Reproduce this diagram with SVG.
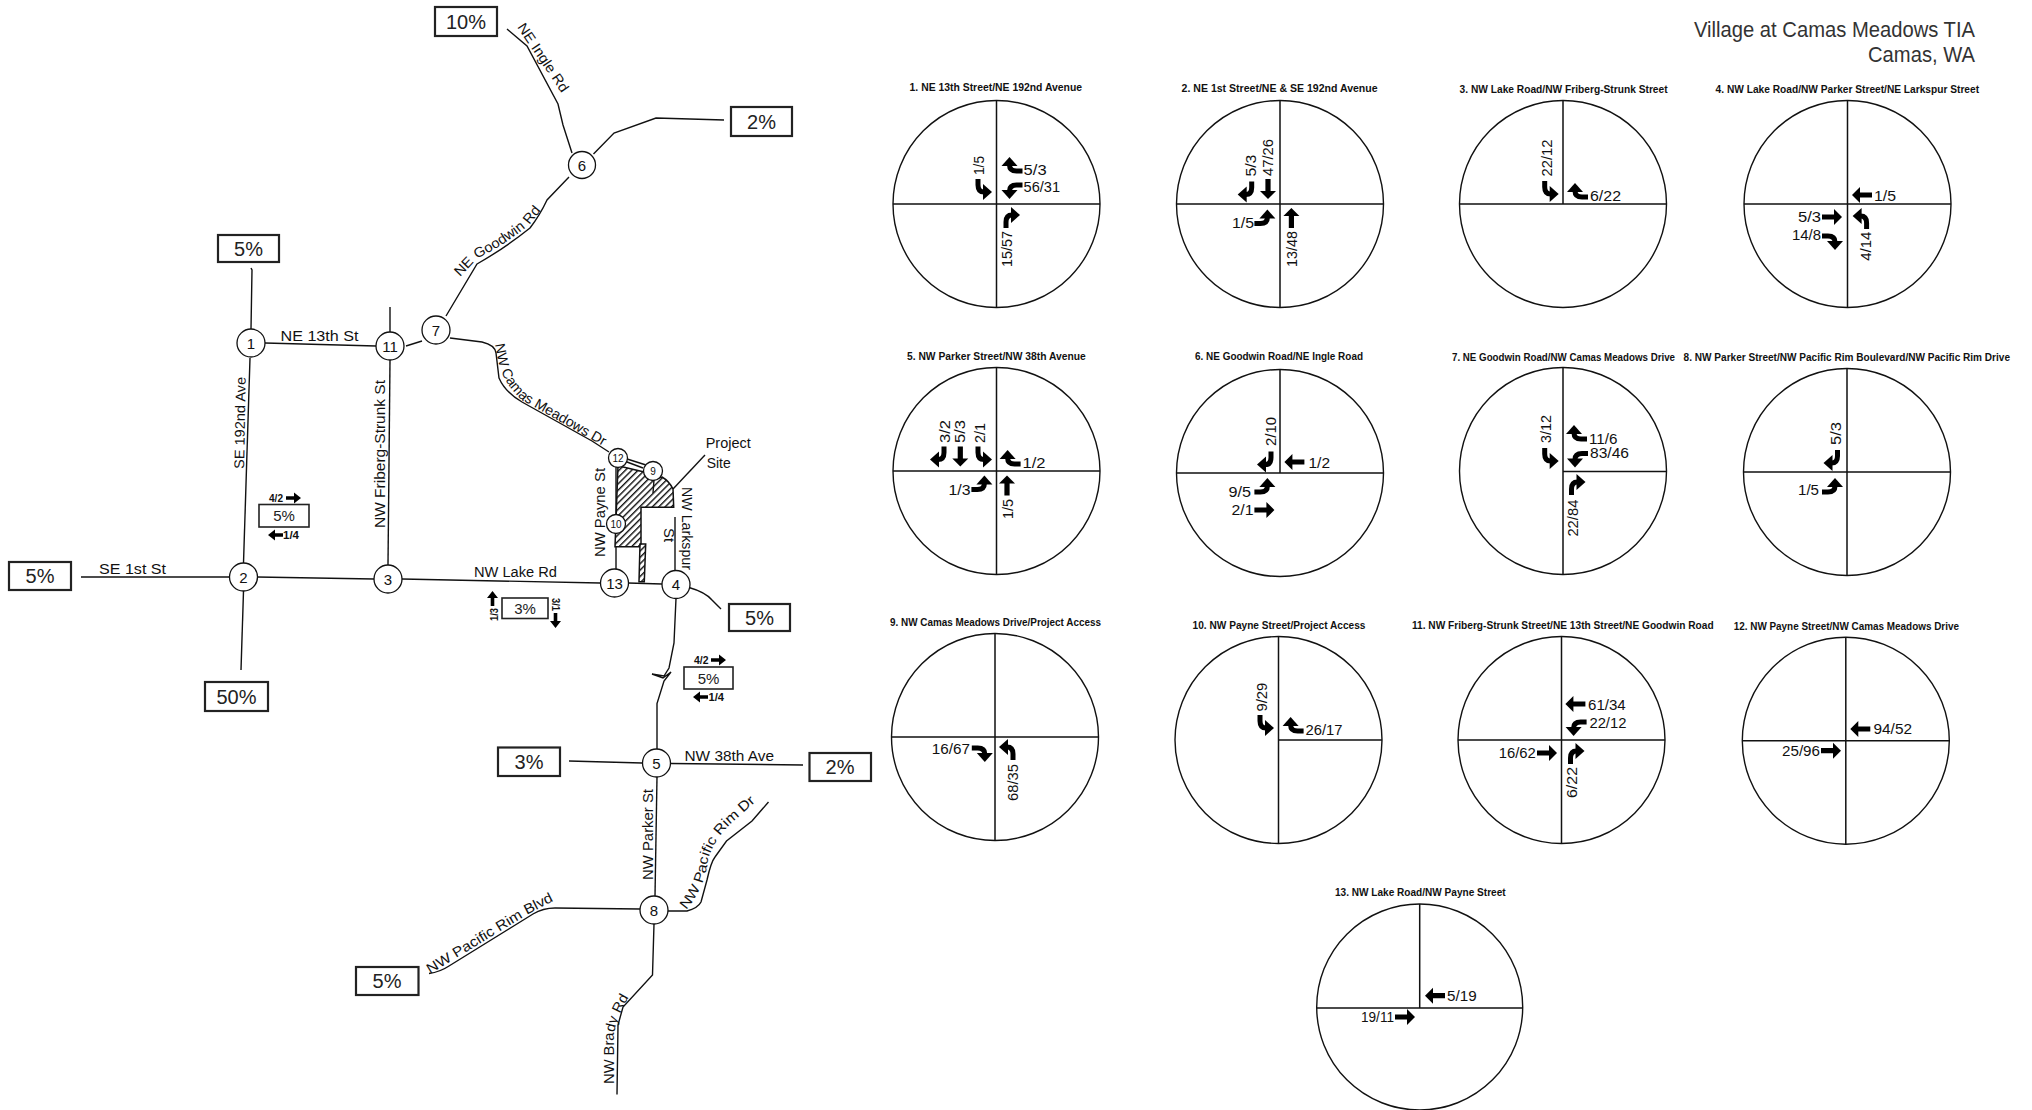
<svg xmlns="http://www.w3.org/2000/svg" width="2032" height="1110" viewBox="0 0 2032 1110">
<style>
text{font-family:"Liberation Sans",Arial,sans-serif;fill:#111}
.r{fill:none;stroke:#111;stroke-width:1.4}
.b{fill:#fff;stroke:#222;stroke-width:2.2}
.sb{fill:#fff;stroke:#222;stroke-width:1.6}
.p{font-size:20px;text-anchor:middle;fill:#222}
.ps{font-size:15px;text-anchor:middle;fill:#222}
.n{fill:#fff;stroke:#111;stroke-width:1.3}
.nt{font-size:15px;text-anchor:middle}
.nts{font-size:10px;text-anchor:middle}
.l{font-size:14px}
.ttl{font-size:10px;font-weight:bold}
.v{font-size:14px}
.sm{font-size:10px;font-weight:bold}
.h{font-size:22px;fill:#333}
.c{fill:#fff;stroke:#111;stroke-width:1.4}
.x{stroke:#111;stroke-width:1.5}
.tr{fill:none;stroke:#000;stroke-width:5}
</style>
<defs>
<pattern id="hatch" width="4.500" height="4.500" patternUnits="userSpaceOnUse" patternTransform="rotate(45)"><rect width="4.500" height="4.500" fill="#fff"/><rect width="1.400" height="4.500" fill="#111"/></pattern>
<g id="en"><path class="tr" d="M0,0H6Q13,0 13,-6"/><polygon points="5,-5 21,-5 13,-14"/></g>
<use id="es" href="#en" transform="scale(1,-1)"/>
<use id="se" href="#en" transform="rotate(90)"/>
<use id="sw" href="#en" transform="rotate(90) scale(1,-1)"/>
<use id="wn" href="#en" transform="scale(-1,1)"/>
<use id="ws" href="#en" transform="rotate(180)"/>
<use id="nw" href="#en" transform="rotate(-90)"/>
<use id="ne" href="#en" transform="rotate(-90) scale(1,-1)"/>
<polygon id="te" points="0,-2.600 12,-2.600 12,-8 20,0 12,8 12,2.600 0,2.600"/>
<use id="tw" href="#te" transform="rotate(180)"/>
<use id="ts" href="#te" transform="rotate(90)"/>
<use id="tn" href="#te" transform="rotate(-90)"/>
<polygon id="se1" points="0,-1.800 8,-1.800 8,-5.500 15,0 8,5.500 8,1.800 0,1.800"/>
<path id="pGood" d="M460,277L478,258Q505,245 530,224L548,202"/>
<path id="pCam" d="M495,344C499,365 500,380 522,400L610,450"/>
<path id="pDr" d="M686,910Q704,890 708,860Q714,838 735,820L780,780"/>
<path id="pBrady" d="M614,1084L614,1035Q616,1018 630,995"/>
<path id="pBlvd" d="M430,974L530,913L565,895"/>
</defs>

<g id="connectors">
<path class="r" d="M507,29L527,46L558,104L563,125L572,153"/>
<path class="r" d="M593.500,154L614,133L656,118L724,120"/>
<path class="r" d="M569,177L547,200Q540,215 530,228Q505,248 477,264L446,316"/>
<path class="r" d="M422,341L406,346"/>
<path class="r" d="M450,338L482,342Q495,345 496,353L499,378Q505,392 522,402L592,441L609,452"/>
<path class="r" d="M251,268L252,270L251,329"/>
<path class="r" d="M265,343L376,346"/>
<path class="r" d="M390,307V332"/>
<path class="r" d="M390,360L388,565"/>
<path class="r" d="M250,358L243.500,563"/>
<path class="r" d="M81,577L230,577"/>
<path class="r" d="M257,577L374,579"/>
<path class="r" d="M402,579L600,583"/>
<path class="r" d="M628,583L662,584"/>
<path class="r" d="M243.500,591L241,670"/>
<path class="r" d="M689,587.500Q705,592 712,600L721,609"/>
<path class="r" d="M676,598.500L674,643L669,668L664,676L652,674L663,678L671,672L664,681L657,703.500V749"/>
<path class="r" d="M569,761L642,763"/>
<path class="r" d="M671,763.500L803,765"/>
<path class="r" d="M657,777L655,896"/>
<path class="r" d="M640,909L555,908Q543,908 533,914L449,966Q440,972 429,973.500"/>
<path class="r" d="M668,911L687,911Q698,908 701,902L707,880Q711,862 715,857L726.500,841L752,821L768.500,802"/>
<path class="r" d="M654,924L652.500,975L623,1007L618,1025L617,1094.500"/>
<path class="r" d="M675,517V570"/>
<path class="r" d="M616,467V569"/>
<path class="r" d="M627,462L643,468"/>
<path class="r" d="M624,458L646,465"/>
<path class="r" d="M673,489L705,455"/>
</g>

<g id="site">
<path d="M618,465.700L644,472L652,480L662,477Q669,481 673,489L673.700,507.300H641V546.700H615Z" fill="url(#hatch)" stroke="#111" stroke-width="1.500"/>
<path d="M640,544H645.700L644.300,581.700H639Z" fill="url(#hatch)" stroke="#111" stroke-width="1.500"/>
<path class="r" d="M654,480L653,493"/>
<text class="l" x="705.700" y="447.700" textLength="45" lengthAdjust="spacingAndGlyphs">Project</text>
<text class="l" x="706.700" y="467.700" textLength="24" lengthAdjust="spacingAndGlyphs">Site</text>
</g>

<g id="road-labels">
<text class="l" transform="translate(517,27) rotate(56)" textLength="80" lengthAdjust="spacingAndGlyphs">NE Ingle Rd</text>
<text class="l" textLength="106" lengthAdjust="spacingAndGlyphs"><textPath href="#pGood">NE Goodwin Rd</textPath></text>
<text class="l" textLength="157" lengthAdjust="spacingAndGlyphs"><textPath href="#pCam">NW Camas Meadows Dr</textPath></text>
<text class="l" x="280.500" y="341" textLength="78" lengthAdjust="spacingAndGlyphs">NE 13th St</text>
<text class="l" transform="translate(244,469) rotate(-89)" textLength="92" lengthAdjust="spacingAndGlyphs">SE 192nd Ave</text>
<text class="l" transform="translate(385,528) rotate(-90)" textLength="148" lengthAdjust="spacingAndGlyphs">NW Friberg-Strunk St</text>
<text class="l" transform="translate(605,557) rotate(-90)" textLength="89" lengthAdjust="spacingAndGlyphs">NW Payne St</text>
<text class="l" transform="translate(682,487) rotate(90)" textLength="83" lengthAdjust="spacingAndGlyphs">NW Larkspur</text>
<text class="l" transform="translate(664,528) rotate(90)" textLength="14" lengthAdjust="spacingAndGlyphs">St</text>
<text class="l" x="474" y="577" textLength="83" lengthAdjust="spacingAndGlyphs">NW Lake Rd</text>
<text class="l" x="99" y="574" textLength="67" lengthAdjust="spacingAndGlyphs">SE 1st St</text>
<text class="l" x="684.500" y="761" textLength="89.500" lengthAdjust="spacingAndGlyphs">NW 38th Ave</text>
<text class="l" transform="translate(653,880) rotate(-90)" textLength="91" lengthAdjust="spacingAndGlyphs">NW Parker St</text>
<text class="l" textLength="144" lengthAdjust="spacingAndGlyphs"><textPath href="#pBlvd">NW Pacific Rim Blvd</textPath></text>
<text class="l" textLength="132" lengthAdjust="spacingAndGlyphs"><textPath href="#pDr">NW Pacific Rim Dr</textPath></text>
<text class="l" textLength="90" lengthAdjust="spacingAndGlyphs"><textPath href="#pBrady">NW Brady Rd</textPath></text>
</g>

<g id="pct-boxes">
<g id="box-10"><rect class="b" x="435" y="7" width="62" height="29"/><text class="p" x="466" y="29">10%</text></g>
<g id="box-2a"><rect class="b" x="731" y="107" width="61" height="29"/><text class="p" x="761.500" y="129">2%</text></g>
<g id="box-5a"><rect class="b" x="218" y="235" width="61" height="27"/><text class="p" x="248.500" y="256">5%</text></g>
<g id="box-5b"><rect class="b" x="9" y="562" width="62" height="28"/><text class="p" x="40" y="583">5%</text></g>
<g id="box-50"><rect class="b" x="205" y="682" width="63" height="29"/><text class="p" x="236.500" y="704">50%</text></g>
<g id="box-5c"><rect class="b" x="729" y="604" width="61" height="27"/><text class="p" x="759.500" y="625">5%</text></g>
<g id="box-3"><rect class="b" x="498" y="747.500" width="62" height="28.500"/><text class="p" x="529" y="769">3%</text></g>
<g id="box-2b"><rect class="b" x="809.500" y="753" width="61.500" height="28"/><text class="p" x="840" y="774">2%</text></g>
<g id="box-5d"><rect class="b" x="356" y="967" width="62.500" height="28"/><text class="p" x="387" y="988">5%</text></g>
</g>

<g id="volume-boxes">
<g id="vb1"><rect class="sb" x="259" y="504.500" width="50" height="22.500"/><text class="ps" x="284" y="521">5%</text>
<text class="sm" x="269" y="502" textLength="14" lengthAdjust="spacingAndGlyphs">4/2</text><use href="#se1" x="286" y="498"/>
<use href="#se1" transform="translate(283,535) rotate(180)"/><text class="sm" x="283" y="539" textLength="16" lengthAdjust="spacingAndGlyphs">1/4</text></g>
<g id="vb2"><rect class="sb" x="502" y="598" width="46" height="20.500"/><text class="ps" x="525" y="614">3%</text>
<use href="#se1" transform="translate(492.500,606) rotate(-90)"/><text class="sm" transform="translate(498,621) rotate(-90)" textLength="13" lengthAdjust="spacingAndGlyphs">1/3</text>
<text class="sm" transform="translate(552,598) rotate(90)" textLength="13" lengthAdjust="spacingAndGlyphs">3/1</text><use href="#se1" transform="translate(555.500,613) rotate(90)"/></g>
<g id="vb3"><rect class="sb" x="684" y="667" width="49" height="22"/><text class="ps" x="708.500" y="683.500">5%</text>
<text class="sm" x="694" y="664" textLength="14.500" lengthAdjust="spacingAndGlyphs">4/2</text><use href="#se1" x="711" y="660"/>
<use href="#se1" transform="translate(708,697) rotate(180)"/><text class="sm" x="708.500" y="701" textLength="15.500" lengthAdjust="spacingAndGlyphs">1/4</text></g>
</g>

<g id="map-nodes">
<g id="m1"><circle class="n" cx="251" cy="343" r="14"/><text class="nt" x="251" y="348.500">1</text></g>
<g id="m2"><circle class="n" cx="243.500" cy="577" r="14"/><text class="nt" x="243.500" y="582.500">2</text></g>
<g id="m3"><circle class="n" cx="388" cy="579" r="14"/><text class="nt" x="388" y="584.500">3</text></g>
<g id="m4"><circle class="n" cx="676" cy="584.500" r="14"/><text class="nt" x="676" y="590">4</text></g>
<g id="m5"><circle class="n" cx="656.500" cy="763" r="14"/><text class="nt" x="656.500" y="768.500">5</text></g>
<g id="m6"><circle class="n" cx="582" cy="165" r="13.500"/><text class="nt" x="582" y="170.500">6</text></g>
<g id="m7"><circle class="n" cx="436" cy="330" r="14"/><text class="nt" x="436" y="335.500">7</text></g>
<g id="m8"><circle class="n" cx="654" cy="910" r="14"/><text class="nt" x="654" y="915.500">8</text></g>
<g id="m9"><circle class="n" cx="653" cy="471" r="9.500"/><text class="nts" x="653" y="474.500">9</text></g>
<g id="m10"><circle class="n" cx="616" cy="524" r="9.500"/><text class="nts" x="616" y="527.500">10</text></g>
<g id="m11"><circle class="n" cx="390" cy="346" r="14"/><text class="nt" x="390" y="351.500">11</text></g>
<g id="m12"><circle class="n" cx="618" cy="458" r="9.500"/><text class="nts" x="618" y="461.500">12</text></g>
<g id="m13"><circle class="n" cx="614.500" cy="583" r="14"/><text class="nt" x="614.500" y="588.500">13</text></g>
</g>

<g id="title">
<text class="h" x="1694" y="36.700" textLength="281" lengthAdjust="spacingAndGlyphs">Village at Camas Meadows TIA</text>
<text class="h" x="1868" y="62" textLength="107" lengthAdjust="spacingAndGlyphs">Camas, WA</text>
</g>

<g id="int1"><text class="ttl" x="909.600" y="90.500" textLength="172.500" lengthAdjust="spacingAndGlyphs">1. NE 13th Street/NE 192nd Avenue</text>
<circle class="c" cx="996.500" cy="204" r="103.500"/><path class="x" d="M996.500,100.500V307.500M893,204H1100"/>
<use href="#se" x="978" y="179"/><text class="v" transform="translate(984.300,175) rotate(-90)" textLength="19" lengthAdjust="spacingAndGlyphs">1/5</text>
<use href="#wn" x="1022.500" y="171"/><text class="v" x="1023.600" y="175" textLength="23" lengthAdjust="spacingAndGlyphs">5/3</text>
<use href="#ws" x="1022.500" y="185"/><text class="v" x="1023.600" y="191.500" textLength="36.500" lengthAdjust="spacingAndGlyphs">56/31</text>
<use href="#ne" x="1006" y="228"/><text class="v" transform="translate(1011.700,267) rotate(-90)" textLength="36" lengthAdjust="spacingAndGlyphs">15/57</text></g>

<g id="int2"><text class="ttl" x="1181.600" y="92" textLength="196" lengthAdjust="spacingAndGlyphs">2. NE 1st Street/NE &amp; SE 192nd Avenue</text>
<circle class="c" cx="1280" cy="204" r="103.500"/><path class="x" d="M1280,100.500V307.500M1176.500,204H1383.500"/>
<use href="#sw" x="1251.700" y="181.500"/><text class="v" transform="translate(1255.500,176.600) rotate(-90)" textLength="22" lengthAdjust="spacingAndGlyphs">5/3</text>
<use href="#ts" x="1268" y="179"/><text class="v" transform="translate(1273,176) rotate(-90)" textLength="37" lengthAdjust="spacingAndGlyphs">47/26</text>
<use href="#en" x="1254.400" y="223.500"/><text class="v" x="1232" y="227.500" textLength="22" lengthAdjust="spacingAndGlyphs">1/5</text>
<use href="#tn" x="1291.400" y="228"/><text class="v" transform="translate(1296.600,267) rotate(-90)" textLength="36" lengthAdjust="spacingAndGlyphs">13/48</text></g>

<g id="int3"><text class="ttl" x="1459.600" y="93" textLength="208" lengthAdjust="spacingAndGlyphs">3. NW Lake Road/NW Friberg-Strunk Street</text>
<circle class="c" cx="1563" cy="204" r="103.500"/><path class="x" d="M1563,100.500V204M1459.500,204H1666.500"/>
<use href="#se" x="1544.700" y="181"/><text class="v" transform="translate(1552,176.500) rotate(-90)" textLength="37" lengthAdjust="spacingAndGlyphs">22/12</text>
<use href="#wn" x="1588" y="197"/><text class="v" x="1590" y="201" textLength="31" lengthAdjust="spacingAndGlyphs">6/22</text></g>

<g id="int4"><text class="ttl" x="1715.600" y="93" textLength="263.500" lengthAdjust="spacingAndGlyphs">4. NW Lake Road/NW Parker Street/NE Larkspur Street</text>
<circle class="c" cx="1847.500" cy="204" r="103.500"/><path class="x" d="M1847.500,100.500V307.500M1744,204H1951"/>
<use href="#tw" x="1872" y="195"/><text class="v" x="1874" y="201" textLength="22" lengthAdjust="spacingAndGlyphs">1/5</text>
<use href="#te" x="1822" y="217"/><text class="v" x="1798" y="222" textLength="23" lengthAdjust="spacingAndGlyphs">5/3</text>
<use href="#es" x="1822" y="236"/><text class="v" x="1792" y="240" textLength="29" lengthAdjust="spacingAndGlyphs">14/8</text>
<use href="#nw" x="1866.600" y="229"/><text class="v" transform="translate(1870.500,260.700) rotate(-90)" textLength="29" lengthAdjust="spacingAndGlyphs">4/14</text></g>

<g id="int5"><text class="ttl" x="907" y="359.500" textLength="178.700" lengthAdjust="spacingAndGlyphs">5. NW Parker Street/NW 38th Avenue</text>
<circle class="c" cx="996.500" cy="471" r="103.500"/><path class="x" d="M996.500,367.500V574.500M893,471H1100"/>
<use href="#sw" x="944" y="446.600"/><text class="v" transform="translate(949.600,443) rotate(-90)" textLength="23" lengthAdjust="spacingAndGlyphs">3/2</text>
<use href="#ts" x="960.300" y="446.600"/><text class="v" transform="translate(965,443) rotate(-90)" textLength="23" lengthAdjust="spacingAndGlyphs">5/3</text>
<use href="#se" x="978" y="446.600"/><text class="v" transform="translate(984.700,443) rotate(-90)" textLength="20" lengthAdjust="spacingAndGlyphs">2/1</text>
<use href="#wn" x="1020.600" y="464"/><text class="v" x="1022.500" y="467.600" textLength="23" lengthAdjust="spacingAndGlyphs">1/2</text>
<use href="#en" x="971.400" y="489.500"/><text class="v" x="948.500" y="495" textLength="22" lengthAdjust="spacingAndGlyphs">1/3</text>
<use href="#tn" x="1007" y="495.500"/><text class="v" transform="translate(1012.500,519) rotate(-90)" textLength="20" lengthAdjust="spacingAndGlyphs">1/5</text></g>

<g id="int6"><text class="ttl" x="1195" y="359.500" textLength="168" lengthAdjust="spacingAndGlyphs">6. NE Goodwin Road/NE Ingle Road</text>
<circle class="c" cx="1280" cy="473" r="103.500"/><path class="x" d="M1280,369.500V473M1176.500,473H1383.500"/>
<use href="#sw" x="1271" y="451.600"/><text class="v" transform="translate(1276,446) rotate(-90)" textLength="29" lengthAdjust="spacingAndGlyphs">2/10</text>
<use href="#tw" x="1304.400" y="462"/><text class="v" x="1308.500" y="468" textLength="21.500" lengthAdjust="spacingAndGlyphs">1/2</text>
<use href="#en" x="1254.400" y="492"/><text class="v" x="1228.500" y="496.500" textLength="22.500" lengthAdjust="spacingAndGlyphs">9/5</text>
<use href="#te" x="1254.400" y="510"/><text class="v" x="1231.500" y="515" textLength="22" lengthAdjust="spacingAndGlyphs">2/1</text></g>

<g id="int7"><text class="ttl" x="1452" y="360.500" textLength="223" lengthAdjust="spacingAndGlyphs">7. NE Goodwin Road/NW Camas Meadows Drive</text>
<circle class="c" cx="1563" cy="471" r="103.500"/><path class="x" d="M1563,367.500V574.500M1563,471.500H1666.500"/>
<use href="#se" x="1544.700" y="448"/><text class="v" transform="translate(1551.400,443) rotate(-90)" textLength="28" lengthAdjust="spacingAndGlyphs">3/12</text>
<use href="#wn" x="1587" y="439"/><text class="v" x="1589" y="444" textLength="28.500" lengthAdjust="spacingAndGlyphs">11/6</text>
<use href="#ws" x="1588" y="453.600"/><text class="v" x="1590" y="457.600" textLength="39" lengthAdjust="spacingAndGlyphs">83/46</text>
<use href="#ne" x="1571.500" y="495"/><text class="v" transform="translate(1578,536.600) rotate(-90)" textLength="37" lengthAdjust="spacingAndGlyphs">22/84</text></g>

<g id="int8"><text class="ttl" x="1683.600" y="360.500" textLength="326.400" lengthAdjust="spacingAndGlyphs">8. NW Parker Street/NW Pacific Rim Boulevard/NW Pacific Rim Drive</text>
<circle class="c" cx="1847" cy="472" r="103.500"/><path class="x" d="M1847,368.500V575.500M1743.500,472H1950.500"/>
<use href="#sw" x="1837.500" y="450"/><text class="v" transform="translate(1841.400,445) rotate(-90)" textLength="23" lengthAdjust="spacingAndGlyphs">5/3</text>
<use href="#en" x="1822" y="492"/><text class="v" x="1798" y="495" textLength="21" lengthAdjust="spacingAndGlyphs">1/5</text></g>

<g id="int9"><text class="ttl" x="890" y="626" textLength="211" lengthAdjust="spacingAndGlyphs">9. NW Camas Meadows Drive/Project Access</text>
<circle class="c" cx="995" cy="737" r="103.500"/><path class="x" d="M995,633.500V840.500M891.500,737H1098.500"/>
<use href="#es" x="971.800" y="748"/><text class="v" x="931.800" y="754" textLength="38.200" lengthAdjust="spacingAndGlyphs">16/67</text>
<use href="#nw" x="1013" y="760"/><text class="v" transform="translate(1017.600,801) rotate(-90)" textLength="37" lengthAdjust="spacingAndGlyphs">68/35</text></g>

<g id="int10"><text class="ttl" x="1192.600" y="629" textLength="172.800" lengthAdjust="spacingAndGlyphs">10. NW Payne Street/Project Access</text>
<circle class="c" cx="1278.500" cy="740" r="103.500"/><path class="x" d="M1278.500,636.500V843.500M1278.500,740H1382"/>
<use href="#se" x="1260" y="715"/><text class="v" transform="translate(1267.400,711.600) rotate(-90)" textLength="29" lengthAdjust="spacingAndGlyphs">9/29</text>
<use href="#wn" x="1303.600" y="731"/><text class="v" x="1305.500" y="735" textLength="37" lengthAdjust="spacingAndGlyphs">26/17</text></g>

<g id="int11"><text class="ttl" x="1412" y="629" textLength="301.600" lengthAdjust="spacingAndGlyphs">11. NW Friberg-Strunk Street/NE 13th Street/NE Goodwin Road</text>
<circle class="c" cx="1561.500" cy="740" r="103.500"/><path class="x" d="M1561.500,636.500V843.500M1458,740H1665"/>
<use href="#tw" x="1585.400" y="704"/><text class="v" x="1588" y="710" textLength="37.700" lengthAdjust="spacingAndGlyphs">61/34</text>
<use href="#ws" x="1586.600" y="722"/><text class="v" x="1589.400" y="727.600" textLength="37.100" lengthAdjust="spacingAndGlyphs">22/12</text>
<use href="#te" x="1537" y="753"/><text class="v" x="1498.700" y="758" textLength="37.100" lengthAdjust="spacingAndGlyphs">16/62</text>
<use href="#ne" x="1570.500" y="764"/><text class="v" transform="translate(1577,798) rotate(-90)" textLength="31" lengthAdjust="spacingAndGlyphs">6/22</text></g>

<g id="int12"><text class="ttl" x="1733.700" y="629.700" textLength="225.300" lengthAdjust="spacingAndGlyphs">12. NW Payne Street/NW Camas Meadows Drive</text>
<circle class="c" cx="1845.800" cy="740.700" r="103.500"/><path class="x" d="M1845.800,637.200V844.200M1742.300,740.700H1949.300"/>
<use href="#tw" x="1870.300" y="729"/><text class="v" x="1873.500" y="734" textLength="38.500" lengthAdjust="spacingAndGlyphs">94/52</text>
<use href="#te" x="1821" y="750.700"/><text class="v" x="1782" y="755.700" textLength="38" lengthAdjust="spacingAndGlyphs">25/96</text></g>

<g id="int13"><text class="ttl" x="1335" y="896" textLength="170.600" lengthAdjust="spacingAndGlyphs">13. NW Lake Road/NW Payne Street</text>
<circle class="c" cx="1419.700" cy="1007" r="103"/><path class="x" d="M1419.700,904V1008M1316.700,1008H1522.700"/>
<use href="#tw" x="1445" y="995.700"/><text class="v" x="1447" y="1001" textLength="29.600" lengthAdjust="spacingAndGlyphs">5/19</text>
<use href="#te" x="1395" y="1017"/><text class="v" x="1361" y="1022" textLength="33" lengthAdjust="spacingAndGlyphs">19/11</text></g>
</svg>
